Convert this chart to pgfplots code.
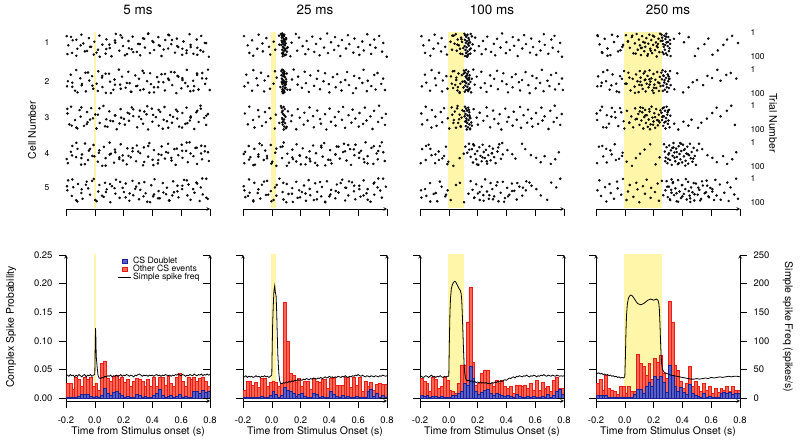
\documentclass[border=0pt]{standalone}
\usepackage{pgfplots}
\pgfplotsset{compat=1.18}
\usepackage{pgfplotstable}
\usepackage{fontspec}
\setmainfont{TeX Gyre Heros}
\definecolor{yel}{RGB}{255,246,170}
\definecolor{redf}{RGB}{248,104,84}
\definecolor{rede}{RGB}{236,28,20}
\definecolor{bluef}{RGB}{88,96,200}
\definecolor{bluee}{RGB}{28,32,150}
\definecolor{dotc}{RGB}{25,25,25}

% background raster dots: times (ms) and trial numbers
\pgfplotstableread{
tA tB tC tD tE sA sB sC sD sE
-195 -193 -190 -187 -191 14 71 33 88 50
-184 -167 -177 -166 -185 52 23 78 41 9
-158 -156 -165 -156 -160 83 56 5 17 73
-154 -137 -137 -130 -149 31 89 60 63 37
-128 -129 -128 -120 -121 95 4 91 29 96
-121 -101 -106 -95 -117 66 38 19 94 24
-93 -91 -98 -89 -93 8 67 46 52 61
-80 -65 -75 -68 -85 44 15 84 7 85
-69 -62 -54 -47 -56 77 92 27 75 14
-41 -38 -50 -41 -46 22 47 69 36 42
-33 -19 -25 -17 -33 58 29 11 58 68
-7 -11 -13 -9 -7 90 81 53 13 3
-3 13 12 21 3 37 60 95 82 90
22 24 22 28 24 70 9 38 45 55
32 50 34 52 32 12 35 72 99 28
53 53 60 63 61 49 74 2 21 77
75 77 80 75 71 86 98 57 67 19
81 99 88 103 83 27 19 88 3 46
104 106 101 112 108 63 52 24 49 99
116 129 126 134 119 97 85 65 86 33
142 137 140 140 143 41 43 41 32 64
146 167 152 170 147 5 2 98 71 6
170 176 179 180 172 74 64 15 10 81
190 189 183 194 193 20 31 50 56 40
196 214 209 222 202 55 77 79 93 57
224 233 228 226 215 88 11 30 27 22
234 242 237 250 240 34 58 63 64 93
256 254 257 262 262 68 94 8 39 11
263 281 267 287 267 16 26 44 80 70
292 295 294 292 287 79 69 90 15 35
301 307 313 315 307 46 40 21 47 87
315 332 322 335 316 93 7 56 97 48
343 338 335 341 344 25 83 75 23 16
348 363 359 370 353 61 50 36 61 62
371 384 370 379 364 3 17 99 5 97
383 390 396 401 392 84 62 13 74 29
407 411 400 411 405 39 96 67 34 75
412 433 424 438 415 71 33 48 89 4
441 439 444 443 443 18 75 83 51 53
452 463 454 464 451 54 21 26 19 83
463 476 478 487 472 96 54 59 69 20
489 487 484 495 495 30 88 6 42 66
509 515 510 509 501 65 45 92 8 39
517 529 523 533 519 10 12 40 77 92
531 538 536 553 544 47 66 71 30 13
557 566 564 561 550 82 99 17 95 58
570 574 572 580 574 24 28 54 55 31
580 601 585 604 581 59 79 87 12 79
607 608 608 609 606 91 37 31 66 45
616 628 629 634 620 36 57 76 37 7
638 639 637 646 643 73 3 9 84 71
658 663 660 658 651 6 91 62 2 26
665 683 666 685 665 50 48 45 59 89
685 690 691 699 692 87 70 97 25 60
708 711 712 710 705 28 24 22 91 18
712 720 721 738 728 62 84 68 48 94
739 746 734 745 736 13 16 1 72 38
753 766 760 765 750 78 61 51 18 67
764 774 773 786 774 42 39 80 43 2
792 798 786 792 784 99 86 35 79 85
}\bg

% complex spike histograms (20 ms bins): total (r) and doublet (b) per panel
\pgfplotstableread{
t r1 b1 r2 b2 r3 b3 r4 b4
-0.20 .025 .002 .014 .002 .034 .004 .026 .004
-0.18 .025 .002 .030 .002 .029 .003 .033 .004
-0.16 .016 .002 .030 .002 .025 .004 .014 .005
-0.14 .037 .002 .022 .002 .012 .002 .040 .005
-0.12 .032 .003 .028 .002 .036 .003 .017 .002
-0.10 .021 .007 .018 .002 .033 .003 .014 .002
-0.08 .037 .007 .035 .003 .017 .002 .011 .002
-0.06 .032 .006 .034 .002 .020 .003 .007 .002
-0.04 .036 .003 .020 .002 .037 .002 .021 .002
-0.02 .021 .002 .028 .004 .031 .002 .021 .002
0.00 .026 .003 .030 .011 .014 .002 .009 .002
0.02 .013 .002 .027 .006 .012 .004 .021 .002
0.04 .060 .004 .020 .002 .009 .004 .011 .002
0.06 .065 .017 .026 .004 .025 .008 .011 .006
0.08 .034 .008 .167 .018 .058 .012 .076 .015
0.10 .029 .005 .100 .013 .058 .025 .061 .015
0.12 .038 .010 .043 .012 .133 .022 .055 .008
0.14 .040 .012 .040 .008 .193 .055 .040 .020
0.16 .033 .008 .027 .003 .062 .035 .060 .028
0.18 .037 .004 .034 .006 .023 .012 .032 .020
0.20 .027 .002 .020 .009 .026 .006 .069 .038
0.22 .032 .003 .030 .003 .043 .010 .063 .032
0.24 .020 .002 .030 .002 .049 .014 .075 .038
0.26 .030 .002 .016 .002 .049 .016 .044 .028
0.28 .034 .006 .034 .009 .026 .008 .035 .010
0.30 .032 .004 .030 .007 .020 .005 .170 .058
0.32 .029 .002 .028 .002 .031 .008 .132 .040
0.34 .021 .003 .032 .003 .026 .007 .057 .020
0.36 .032 .002 .032 .002 .031 .004 .048 .012
0.38 .020 .002 .017 .002 .020 .003 .029 .018
0.40 .036 .005 .034 .011 .017 .005 .017 .010
0.42 .021 .008 .036 .006 .020 .003 .026 .006
0.44 .037 .015 .022 .003 .008 .002 .055 .024
0.46 .036 .004 .022 .002 .023 .006 .020 .008
0.48 .023 .002 .022 .004 .023 .003 .029 .005
0.50 .038 .003 .037 .002 .020 .002 .021 .003
0.52 .026 .005 .036 .003 .023 .002 .011 .002
0.54 .020 .002 .018 .002 .017 .003 .026 .008
0.56 .037 .003 .036 .002 .026 .002 .014 .002
0.58 .043 .006 .022 .003 .014 .003 .021 .003
0.60 .029 .002 .036 .002 .031 .002 .009 .002
0.62 .021 .003 .012 .002 .014 .002 .017 .002
0.64 .037 .002 .030 .002 .028 .003 .010 .002
0.66 .032 .002 .020 .011 .017 .002 .017 .008
0.68 .037 .012 .028 .016 .020 .006 .014 .010
0.70 .029 .011 .014 .003 .011 .002 .021 .008
0.72 .034 .008 .024 .009 .031 .005 .011 .010
0.74 .037 .013 .025 .002 .037 .012 .021 .006
0.76 .029 .010 .024 .005 .017 .015 .013 .008
0.78 .021 .012 .024 .002 .017 .007 .014 .008
0.80 .021 .012 .024 .002 .017 .007 .014 .008
}\bars

\tikzset{
  cellno/.style={font=\fontsize{8.5}{10}\selectfont, xshift=-19bp},
  trialno/.style={font=\fontsize{8.5}{10}\selectfont, anchor=west, xshift=7bp},
}
\pgfplotsset{
  base/.style={scale only axis, anchor=south west,
    axis line style={-, line width=0.6pt},
    every outer x axis line/.append style={-},
    every outer y axis line/.append style={-},
    major tick length=7bp,
    major tick style={black, line width=0.6pt},
    tick label style={font=\fontsize{9.5}{11}\selectfont}},
  raster/.style={base, width=144bp, height=179bp, xmin=-200, xmax=800, ymin=-727, ymax=11.4,
    axis x line=bottom, axis y line=none, xtick={-200,0,200,400,600,800}, xticklabels={},
    tick align=outside, clip=false},
  dots/.style={only marks, mark=*, mark size=1.05bp, mark options={draw=none, fill=dotc}},
  blk/.style={y filter/.expression={-y-#1}},
  csax/.style={base, width=144bp, height=146bp, xmin=-0.2, xmax=0.8, ymin=-0.0052, ymax=0.25,
    axis x line=bottom, axis y line=left, xtick={-0.2,0,0.2,0.4,0.6,0.8},
    xticklabels={-0.2,0.0,0.2,0.4,0.6,0.8}, ytick={0,0.05,0.1,0.15,0.2,0.25}, yticklabels={},
    xticklabel style={yshift=-5bp}, yticklabel style={xshift=-3bp},
    tick align=outside},
  ssax/.style={base, width=144bp, height=146bp, xmin=-0.2, xmax=0.8, ymin=-5.2, ymax=250,
    axis x line=none, axis y line=right, ytick={0,50,100,150,200,250}, yticklabels={},
    tick align=inside},
  redbar/.style={ybar interval, fill=redf, draw=rede, line width=0.5pt, forget plot},
  bluebar/.style={ybar interval, fill=bluef, draw=bluee, line width=0.5pt, forget plot},
  ssline/.style={black, line width=0.8pt, no markers},
  yelr/.style={fill=yel, draw=yel, line width=1.5bp, forget plot},
}

\begin{document}
\begin{tikzpicture}
\useasboundingbox (0bp,0bp) rectangle (800bp,441bp);

%================ RASTERS ================
% ---- 5 ms
\begin{axis}[raster, at={(66bp,232bp)}]
\addplot[yelr] coordinates {(0,-1)(5,-1)(5,-719)(0,-719)} --cycle;
\addplot[dots, blk=0] table[x=tA,y=sA] {\bg};
\addplot[dots, blk=0, each nth point=2] table[x=tC,y=sD] {\bg};
\addplot[dots, blk=150] table[x=tB,y=sB] {\bg};
\addplot[dots, blk=150, each nth point=2] table[x=tD,y=sE] {\bg};
\addplot[dots, blk=300] table[x=tC,y=sC] {\bg};
\addplot[dots, blk=300, each nth point=2] table[x=tE,y=sA] {\bg};
\addplot[dots, blk=450] table[x=tD,y=sD] {\bg};
\addplot[dots, blk=450, each nth point=2] table[x=tA,y=sB] {\bg};
\addplot[dots, blk=600] table[x=tE,y=sE] {\bg};
\addplot[dots, blk=600, each nth point=2] table[x=tB,y=sC] {\bg};
\node[cellno] at (axis cs:-200,-42) {1};
\node[cellno] at (axis cs:-200,-200) {2};
\node[cellno] at (axis cs:-200,-350) {3};
\node[cellno] at (axis cs:-200,-500) {4};
\node[cellno] at (axis cs:-200,-637) {5};
\end{axis}

% ---- 25 ms
\begin{axis}[raster, at={(243bp,232bp)}]
\addplot[yelr] coordinates {(0,-1)(25,-1)(25,-719)(0,-719)} --cycle;
\addplot[dots, blk=0] table[x=tB,y=sA] {\bg};
\addplot[dots, blk=0] coordinates {(64,5)(70,12)(73,3)(76,18)(79,9)(82,25)(85,14)(68,33)(74,40)(80,47)(88,36)(91,52)(77,58)(84,63)(72,70)(86,74)(93,67)(78,81)(81,88)(90,93)(75,97)(96,44)(100,22)(105,78)(110,60)(66,50)(71,85)(83,30)(87,8)(94,72)(98,90)(69,20)(92,28)};
\addplot[dots, blk=150] table[x=tC,y=sB] {\bg};
\addplot[dots, blk=150] coordinates {(66,8)(71,2)(75,15)(83,21)(79,28)(87,11)(92,34)(70,39)(76,45)(85,50)(81,56)(73,61)(89,66)(78,72)(95,77)(74,83)(82,89)(88,95)(99,42)(104,18)(69,53)(86,30)(108,85)(77,99)(94,59)(67,25)(91,80)(80,5)(72,92)(97,64)};
\addplot[dots, blk=300] table[x=tD,y=sC] {\bg};
\addplot[dots, blk=300] coordinates {(68,10)(75,22)(82,6)(78,35)(88,41)(72,52)(85,58)(80,66)(92,73)(76,79)(86,87)(98,94)(70,28)(95,47)(83,99)(73,70)(90,15)};
\addplot[dots, blk=450] table[x=tE,y=sD] {\bg};
\addplot[dots, blk=450, each nth point=2] table[x=tA,y=sE] {\bg};
\addplot[dots, blk=600] table[x=tA,y=sC] {\bg};
\addplot[dots, blk=600, each nth point=2] table[x=tC,y=sE] {\bg};
\end{axis}

% ---- 100 ms
\begin{axis}[raster, at={(420bp,232bp)}]
\addplot[yelr] coordinates {(0,-1)(100,-1)(100,-719)(0,-719)} --cycle;
\addplot[dots, blk=0] table[x=tC,y=sA] {\bg};
\addplot[dots, blk=0] coordinates {(108,4)(115,11)(122,17)(130,8)(137,22)(112,29)(126,35)(141,30)(118,42)(133,47)(148,40)(110,55)(124,60)(139,53)(152,65)(116,71)(131,77)(145,70)(120,84)(135,90)(150,86)(113,96)(128,99)(160,15)(165,48)(25,12)(48,6)(62,28)(85,20)(40,45)(70,52)(92,38)(55,74)(78,66)(95,88)};
\addplot[dots, blk=150] table[x=tD,y=sB] {\bg};
\addplot[dots, blk=150] coordinates {(105,6)(112,14)(120,3)(128,19)(136,10)(144,25)(117,31)(125,38)(133,44)(141,35)(109,50)(121,57)(138,62)(150,53)(114,68)(129,73)(146,79)(119,86)(134,91)(155,96)(102,76)(160,40)(126,27)(140,84)(111,93)(15,30)(38,8)(52,45)(67,18)(80,60)(90,25)(30,78)(60,88)(75,95)(95,52)(45,65)};
\addplot[dots, blk=300] table[x=tE,y=sC] {\bg};
\addplot[dots, blk=300] coordinates {(112,5)(120,13)(127,21)(135,9)(142,28)(116,35)(130,41)(145,47)(122,54)(137,60)(150,52)(114,66)(128,72)(143,78)(118,85)(133,90)(148,95)(125,99)(156,70)(110,45)(140,18)(160,83)(20,8)(42,25)(58,12)(75,38)(88,50)(35,60)(65,72)(82,85)(50,92)(95,20)};
\addplot[dots, blk=450, each nth point=2] table[x=tA,y=sD] {\bg};
\addplot[dots, blk=450] coordinates {(115,20)(128,45)(140,8)(152,62)(160,30)(168,85)(175,15)(182,50)(190,72)(198,38)(205,95)(212,22)(220,58)(228,80)(235,12)(243,42)(250,67)(258,33)(266,90)(274,55)(282,18)(290,76)(298,47)(306,28)(315,63)(325,88)(338,40)(350,10)(362,70)(375,52)(-185,30)(-160,75)(-140,12)(-120,55)(-95,88)(-70,40)(-45,68)(-20,20)(-10,92)};
\addplot[dots, blk=600, each nth point=2] table[x=tB,y=sE] {\bg};
\addplot[dots, blk=600] coordinates {(152,12)(165,48)(178,80)(190,25)(202,63)(215,90)(228,35)(240,70)(252,5)(265,55)(278,85)(290,20)(302,45)(315,75)(330,30)(345,95)(360,60)(375,15)(390,82)(405,40)(420,68)(438,22)(455,52)(472,88)(490,35)(510,72)(535,50)(560,18)(-190,80)(-165,45)(-130,20)(-105,65)(-80,95)(-50,35)(-25,75)(-8,50)};
\end{axis}

% ---- 250 ms
\begin{axis}[raster, at={(596bp,232bp)}]
\addplot[yelr] coordinates {(0,-1)(250,-1)(250,-719)(0,-719)} --cycle;
\addplot[dots, blk=0, each nth point=2] table[x=tD,y=sA] {\bg};
\addplot[dots, blk=0] coordinates {(8,10)(22,35)(35,62)(48,18)(60,85)(70,44)(82,5)(90,70)(98,28)(105,52)(112,92)(120,14)(128,38)(135,76)(142,58)(150,22)(157,95)(163,45)(170,8)(177,66)(184,30)(190,84)(197,50)(204,16)(210,72)(216,40)(222,98)(228,60)(234,25)(240,80)(245,4)(118,62)(160,88)(195,12)(230,46)(255,8)(259,20)(262,33)(266,47)(270,58)(274,12)(278,70)(282,26)(286,85)(290,40)(294,92)(298,55)(302,18)(306,76)(310,64)(314,30)(318,96)(262,80)(270,88)(280,50)(288,4)(300,38)(-190,10)(-175,48)(-160,80)(-140,25)(-120,65)(-100,92)(-75,38)(-50,15)(-30,72)(-12,50)};
\addplot[dots, blk=150, each nth point=2] table[x=tE,y=sB] {\bg};
\addplot[dots, blk=150] coordinates {(12,60)(25,15)(40,88)(55,40)(68,72)(78,22)(88,50)(96,95)(104,8)(110,35)(117,66)(124,82)(131,18)(138,45)(145,92)(152,60)(158,28)(165,75)(172,5)(178,52)(185,38)(192,88)(199,20)(205,64)(212,44)(218,78)(225,12)(231,55)(237,90)(243,32)(248,70)(140,10)(200,98)(100,65)(170,42)(254,15)(258,42)(262,5)(266,68)(270,28)(274,55)(278,85)(282,10)(286,36)(290,62)(294,94)(298,22)(302,50)(306,78)(310,40)(314,8)(318,66)(264,90)(276,45)(292,75)(304,30)(-185,30)(-165,70)(-150,12)(-130,50)(-105,85)(-85,22)(-60,60)(-40,95)(-20,40)(-5,8)};
\addplot[dots, blk=300, each nth point=2] table[x=tA,y=sC] {\bg};
\addplot[dots, blk=300] coordinates {(15,22)(30,70)(45,45)(58,90)(72,12)(84,55)(94,35)(102,80)(108,8)(115,62)(121,28)(128,95)(134,48)(141,18)(147,72)(153,40)(160,88)(166,58)(172,25)(179,78)(186,5)(192,50)(199,66)(205,32)(211,92)(218,15)(224,60)(230,82)(236,38)(242,70)(247,20)(125,10)(175,98)(210,48)(255,30)(259,60)(263,12)(267,84)(271,45)(275,70)(279,22)(283,95)(287,52)(291,5)(295,38)(299,76)(303,62)(307,18)(311,90)(316,42)(260,48)(272,8)(285,66)(297,28)(-192,60)(-170,20)(-150,90)(-125,40)(-110,75)(-90,10)(-65,50)(-45,85)(-25,28)(-8,65)};
\addplot[dots, blk=450, each nth point=2] table[x=tB,y=sD] {\bg};
\addplot[dots, blk=450] coordinates {(272,10)(278,40)(284,65)(290,22)(296,88)(302,52)(308,15)(314,75)(320,35)(326,95)(332,58)(338,5)(344,44)(350,80)(356,28)(362,62)(368,92)(374,18)(380,50)(386,72)(392,38)(398,85)(404,12)(410,60)(416,30)(422,78)(428,48)(434,20)(440,90)(446,55)(452,8)(458,68)(464,42)(470,82)(478,25)(486,58)(494,95)(502,35)(300,70)(330,25)(360,42)(390,8)(420,98)(345,65)(375,88)(-180,20)(-150,60)(-125,85)(-100,35)(-70,10)(-40,70)(-15,45)};
\addplot[dots, blk=600] table[x=tC,y=sE] {\bg};
\addplot[dots, blk=600] coordinates {(282,50)(290,12)(298,78)(306,35)(315,90)(324,60)(333,20)(342,70)(351,42)(360,95)(370,8)(380,55)(390,82)(400,28)(410,65)(420,45)(430,88)(440,15)(450,72)(460,38)(470,58)(482,92)(494,22)(506,68)(518,48)(530,85)(542,30)(555,62)(568,10)(580,75)(594,40)(608,55)(620,90)(325,5)(455,98)};
\node[trialno] at (axis cs:800,-1) {1};
\node[trialno] at (axis cs:800,-100) {100};
\node[trialno] at (axis cs:800,-151) {1};
\node[trialno] at (axis cs:800,-250) {100};
\node[trialno] at (axis cs:800,-301) {1};
\node[trialno] at (axis cs:800,-400) {100};
\node[trialno] at (axis cs:800,-451) {1};
\node[trialno] at (axis cs:800,-550) {100};
\node[trialno] at (axis cs:800,-601) {1};
\node[trialno] at (axis cs:800,-700) {100};
\end{axis}

%================ HISTOGRAMS ================
% ---- 5 ms
\begin{axis}[csax, at={(66bp,40bp)}, yticklabels={0.00,0.05,0.10,0.15,0.20,0.25}]
\addplot[yelr] coordinates {(0,0)(0.005,0)(0.005,0.25)(0,0.25)} --cycle;
\addplot[redbar] table[x=t,y=r1] {\bars};
\addplot[bluebar] table[x=t,y=b1] {\bars};
\end{axis}
\begin{axis}[ssax, at={(66bp,40bp)},
  legend style={at={(0.36,0.995)}, anchor=north west, draw=none, fill=none,
    font=\fontsize{8.7}{9}\selectfont, row sep=-2.5bp, inner sep=0pt, nodes={inner sep=1.3bp}},
  legend cell align=left,
  legend image code/.code={\draw[mark repeat=2,mark phase=2,#1] plot coordinates {(0bp,0bp)(6.5bp,0bp)(13bp,0bp)};}]
\addlegendimage{only marks, mark=square*, mark size=2.2bp, mark options={fill=bluef, draw=bluee, line width=0.5pt}}
\addlegendentry{CS Doublet}
\addlegendimage{only marks, mark=square*, mark size=2.2bp, mark options={fill=redf, draw=rede, line width=0.5pt}}
\addlegendentry{Other CS events}
\addplot[ssline] coordinates {(-0.200,39)(-0.190,40)(-0.180,38)(-0.170,41)(-0.160,39)(-0.150,40)(-0.140,37)(-0.130,40)(-0.120,38)(-0.110,41)(-0.100,39)(-0.090,37)(-0.080,40)(-0.070,41)(-0.060,37)(-0.050,40)(-0.040,39)(-0.030,41)(-0.020,38)(-0.010,40)(0.000,41)(0.003,95)(0.005,122)(0.007,110)(0.010,72)(0.013,64)(0.017,52)(0.022,40)(0.030,35)(0.040,34)(0.050,36)(0.060,35)(0.070,38)(0.080,37)(0.090,39)(0.100,38)(0.110,40)(0.120,37)(0.130,39)(0.140,38)(0.150,40)(0.160,38)(0.170,39)(0.180,41)(0.190,38)(0.200,40)(0.210,39)(0.220,41)(0.230,40)(0.240,38)(0.250,40)(0.260,39)(0.270,37)(0.280,40)(0.290,39)(0.300,41)(0.310,42)(0.320,40)(0.330,38)(0.340,40)(0.350,39)(0.360,40)(0.370,38)(0.380,40)(0.390,39)(0.400,40)(0.410,38)(0.420,40)(0.430,41)(0.440,39)(0.450,40)(0.460,38)(0.470,40)(0.480,39)(0.490,41)(0.500,40)(0.510,39)(0.520,40)(0.530,38)(0.540,40)(0.550,39)(0.560,41)(0.570,40)(0.580,42)(0.590,40)(0.600,39)(0.610,41)(0.620,40)(0.630,38)(0.640,40)(0.650,39)(0.660,41)(0.670,40)(0.680,39)(0.690,42)(0.700,40)(0.710,39)(0.720,41)(0.730,40)(0.740,42)(0.750,39)(0.760,41)(0.770,40)(0.780,42)(0.790,40)(0.800,41)};
\addlegendentry{Simple spike freq}
\end{axis}

% ---- 25 ms
\begin{axis}[csax, at={(243bp,40bp)}]
\addplot[yelr] coordinates {(0,0)(0.025,0)(0.025,0.25)(0,0.25)} --cycle;
\addplot[redbar] table[x=t,y=r2] {\bars};
\addplot[bluebar] table[x=t,y=b2] {\bars};
\end{axis}
\begin{axis}[ssax, at={(243bp,40bp)}]
\addplot[ssline] coordinates {(-0.200,38)(-0.190,37)(-0.180,39)(-0.170,36)(-0.160,38)(-0.150,37)(-0.140,38)(-0.130,36)(-0.120,37)(-0.110,39)(-0.100,37)(-0.090,38)(-0.080,36)(-0.070,38)(-0.060,37)(-0.050,39)(-0.040,37)(-0.030,38)(-0.020,36)(-0.010,38)(0.000,40)(0.003,90)(0.006,130)(0.010,160)(0.015,188)(0.020,196)(0.025,184)(0.030,178)(0.034,150)(0.038,110)(0.042,75)(0.046,55)(0.050,40)(0.055,30)(0.060,26)(0.070,25)(0.080,27)(0.090,26)(0.100,28)(0.110,27)(0.120,29)(0.130,28)(0.140,30)(0.150,29)(0.160,31)(0.170,30)(0.180,32)(0.190,31)(0.200,32)(0.210,31)(0.220,33)(0.230,32)(0.240,34)(0.250,33)(0.260,32)(0.270,34)(0.280,33)(0.290,35)(0.300,34)(0.310,33)(0.320,35)(0.330,34)(0.340,36)(0.350,34)(0.360,35)(0.370,37)(0.380,35)(0.390,36)(0.400,38)(0.410,36)(0.420,37)(0.430,35)(0.440,37)(0.450,36)(0.460,38)(0.470,37)(0.480,36)(0.490,38)(0.500,37)(0.510,39)(0.520,37)(0.530,36)(0.540,38)(0.550,37)(0.560,39)(0.570,38)(0.580,40)(0.590,39)(0.600,41)(0.610,39)(0.620,38)(0.630,40)(0.640,38)(0.650,37)(0.660,39)(0.670,38)(0.680,37)(0.690,39)(0.700,38)(0.710,37)(0.720,39)(0.730,38)(0.740,37)(0.750,39)(0.760,38)(0.770,40)(0.780,39)(0.790,38)(0.800,39)};
\end{axis}

% ---- 100 ms
\begin{axis}[csax, at={(420bp,40bp)}]
\addplot[yelr] coordinates {(0,0)(0.1,0)(0.1,0.25)(0,0.25)} --cycle;
\addplot[redbar] table[x=t,y=r3] {\bars};
\addplot[bluebar] table[x=t,y=b3] {\bars};
\end{axis}
\begin{axis}[ssax, at={(420bp,40bp)}]
\addplot[ssline] coordinates {(-0.200,37)(-0.190,38)(-0.180,36)(-0.170,37)(-0.160,39)(-0.150,38)(-0.140,36)(-0.130,38)(-0.120,40)(-0.110,37)(-0.100,38)(-0.090,36)(-0.080,38)(-0.070,37)(-0.060,39)(-0.050,37)(-0.040,36)(-0.030,38)(-0.020,37)(-0.010,38)(0.000,38)(0.004,100)(0.008,150)(0.012,175)(0.018,192)(0.025,198)(0.032,202)(0.040,204)(0.048,203)(0.056,199)(0.064,195)(0.072,191)(0.080,188)(0.086,182)(0.090,170)(0.094,145)(0.098,115)(0.102,85)(0.106,60)(0.110,45)(0.115,36)(0.120,32)(0.130,30)(0.140,31)(0.150,29)(0.160,30)(0.170,28)(0.180,29)(0.190,27)(0.200,28)(0.210,27)(0.220,28)(0.230,26)(0.240,27)(0.250,26)(0.260,27)(0.270,25)(0.280,26)(0.290,25)(0.300,27)(0.310,26)(0.320,28)(0.330,27)(0.340,29)(0.350,28)(0.360,30)(0.370,29)(0.380,31)(0.390,32)(0.400,31)(0.410,33)(0.420,35)(0.430,34)(0.440,36)(0.450,37)(0.460,35)(0.470,38)(0.480,37)(0.490,39)(0.500,38)(0.510,37)(0.520,39)(0.530,38)(0.540,40)(0.550,38)(0.560,37)(0.570,39)(0.580,38)(0.590,40)(0.600,39)(0.610,37)(0.620,39)(0.630,38)(0.640,40)(0.650,39)(0.660,41)(0.670,39)(0.680,38)(0.690,40)(0.700,39)(0.710,38)(0.720,40)(0.730,39)(0.740,38)(0.750,40)(0.760,39)(0.770,38)(0.780,39)(0.790,38)(0.800,39)};
\end{axis}

% ---- 250 ms
\begin{axis}[csax, at={(596bp,40bp)}]
\addplot[yelr] coordinates {(0,0)(0.25,0)(0.25,0.25)(0,0.25)} --cycle;
\addplot[redbar] table[x=t,y=r4] {\bars};
\addplot[bluebar] table[x=t,y=b4] {\bars};
\end{axis}
\begin{axis}[ssax, at={(596bp,40bp)}, tick align=outside, yticklabels={0,50,100,150,200,250},
  yticklabel style={xshift=3bp}]
\addplot[ssline] coordinates {(-0.200,44)(-0.190,43)(-0.180,44)(-0.170,42)(-0.160,43)(-0.150,41)(-0.140,42)(-0.130,40)(-0.120,41)(-0.110,39)(-0.100,40)(-0.090,38)(-0.080,39)(-0.070,37)(-0.060,38)(-0.050,36)(-0.040,37)(-0.030,35)(-0.020,36)(-0.010,35)(0.000,37)(0.004,70)(0.008,115)(0.012,145)(0.018,165)(0.025,174)(0.032,178)(0.040,180)(0.050,179)(0.060,176)(0.070,172)(0.080,168)(0.090,165)(0.100,164)(0.110,163)(0.120,164)(0.130,165)(0.140,167)(0.150,169)(0.160,171)(0.170,172)(0.180,173)(0.190,172)(0.200,171)(0.210,172)(0.220,173)(0.230,171)(0.236,166)(0.240,155)(0.244,130)(0.248,100)(0.252,75)(0.256,60)(0.262,50)(0.270,46)(0.280,44)(0.290,43)(0.300,42)(0.320,40)(0.340,39)(0.360,38)(0.380,37)(0.400,36)(0.420,35)(0.440,34)(0.460,33)(0.480,33)(0.500,34)(0.520,33)(0.540,34)(0.560,35)(0.580,34)(0.600,36)(0.620,35)(0.640,36)(0.660,37)(0.680,36)(0.700,37)(0.720,38)(0.740,37)(0.760,38)(0.780,38)(0.800,37)};
\end{axis}

%================ TEXT ================
\node[font=\fontsize{13.5}{15}\selectfont] at (138bp,431bp) {5 ms};
\node[font=\fontsize{13.5}{15}\selectfont] at (315bp,431bp) {25 ms};
\node[font=\fontsize{13.5}{15}\selectfont] at (492bp,431bp) {100 ms};
\node[font=\fontsize{13.5}{15}\selectfont] at (668bp,431bp) {250 ms};
\node[font=\fontsize{10.5}{12}\selectfont] at (138bp,9bp) {Time from Stimulus onset (s)};
\node[font=\fontsize{10.5}{12}\selectfont] at (315bp,9bp) {Time from Stimulus Onset (s)};
\node[font=\fontsize{10.5}{12}\selectfont] at (492bp,9bp) {Time from Stimulus Onset (s)};
\node[font=\fontsize{10.5}{12}\selectfont] at (668bp,9bp) {Time from Stimulus Onset (s)};
\node[rotate=90, font=\fontsize{10.5}{12}\selectfont] at (11bp,114bp) {Complex Spike Probability};
\node[rotate=-90, font=\fontsize{10.5}{12}\selectfont] at (788bp,114bp) {Simple spike Freq (spikes/s)};
\node[rotate=90, font=\fontsize{10.5}{12}\selectfont] at (32bp,311bp) {Cell Number};
\node[rotate=-90, font=\fontsize{10.5}{12}\selectfont] at (773bp,318bp) {Trial Number};
\end{tikzpicture}
\end{document}
